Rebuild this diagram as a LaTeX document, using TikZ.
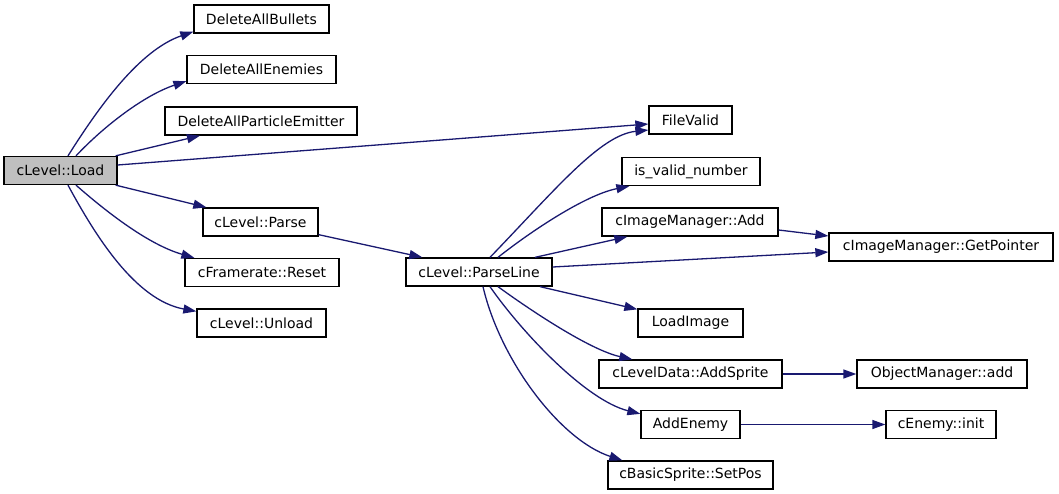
\documentclass[tikz,border=0pt]{standalone}
\usepackage{fontspec}
\setmainfont{DejaVu Sans}
\usetikzlibrary{arrows.meta}
\definecolor{edgec}{HTML}{191970}
\definecolor{grayfill}{HTML}{BFBFBF}
\tikzset{
  fn/.style={draw=black, line width=1.3pt, fill=white, inner sep=0pt, minimum height=28pt,
    font=\fontsize{14}{16}\selectfont, text=black},
  cur/.style={fn, fill=grayfill},
  call/.style={draw=edgec, line width=1.3pt, -{Triangle[length=13pt,width=9pt]}},
}
\begin{document}
\begin{tikzpicture}[x=1pt,y=-1pt]
\useasboundingbox (0,0) rectangle (1059,493);
% nodes
\node[cur, minimum width=113pt] (load) at (60.5,170.5) {cLevel::Load};
\node[fn, minimum width=135pt] (bullets) at (261.5,19) {DeleteAllBullets};
\node[fn, minimum width=149pt] (enemies) at (261.5,69.5) {DeleteAllEnemies};
\node[fn, minimum width=192pt] (particle) at (261,121) {DeleteAllParticleEmitter};
\node[fn, minimum width=115pt] (parse) at (260.5,222) {cLevel::Parse};
\node[fn, minimum width=154pt] (reset) at (262,272.5) {cFramerate::Reset};
\node[fn, minimum width=129pt] (unload) at (261.5,323) {cLevel::Unload};
\node[fn, minimum width=146pt] (parseline) at (479,272) {cLevel::ParseLine};
\node[fn, minimum width=83pt] (filevalid) at (690.5,120) {FileValid};
\node[fn, minimum width=138pt] (isvalid) at (691,171.5) {is\_valid\_number};
\node[fn, minimum width=176pt] (imgadd) at (690,222) {cImageManager::Add};
\node[fn, minimum width=224pt] (getptr) at (941,247) {cImageManager::GetPointer};
\node[fn, minimum width=105pt] (loadimage) at (690.5,323) {LoadImage};
\node[fn, minimum width=183pt] (addsprite) at (690.5,374) {cLevelData::AddSprite};
\node[fn, minimum width=170pt] (objadd) at (942,374) {ObjectManager::add};
\node[fn, minimum width=99pt] (addenemy) at (690.5,424.5) {AddEnemy};
\node[fn, minimum width=110pt] (enemyinit) at (941,424.5) {cEnemy::init};
\node[fn, minimum width=165pt] (setpos) at (690.5,475) {cBasicSprite::SetPos};
% edges from cLevel::Load
\draw[call] ([xshift=7.5pt]load.north) .. controls (100,105) and (140,50) .. ([yshift=2pt]bullets.south west);
\draw[call] ([xshift=15.5pt]load.north) .. controls (105,125) and (145,95) .. ([yshift=3pt]enemies.south west);
\draw[call] ([xshift=-2pt]load.north east) -- ([xshift=-61pt]particle.south);
\draw[call] ([yshift=5.5pt]load.east) -- ([yshift=-4pt]filevalid.west);
\draw[call] ([xshift=-2pt]load.south east) -- ([xshift=4pt]parse.north west);
\draw[call] ([xshift=15.5pt]load.south) .. controls (110,215) and (150,245) .. ([xshift=10pt]reset.north west);
\draw[call] ([xshift=7.5pt]load.south) .. controls (95,235) and (135,300) .. ([yshift=-3pt]unload.north west);
\draw[call] ([yshift=2pt]parse.south east) -- ([xshift=17pt]parseline.north west);
% edges from cLevel::ParseLine
\draw[call] ([xshift=11pt]parseline.north) .. controls (555,190) and (600,135) .. ([yshift=-10pt]filevalid.west);
\draw[call] ([xshift=19pt]parseline.north) .. controls (530,232) and (585,195) .. ([xshift=8pt]isvalid.south west);
\draw[call] ([xshift=56pt]parseline.north) -- ([xshift=26pt]imgadd.south west);
\draw[call] ([yshift=-8pt]imgadd.east) -- ([yshift=11pt]getptr.west);
\draw[call] ([yshift=5pt]parseline.east) -- ([yshift=-5pt]getptr.west);
\draw[call] ([xshift=61pt]parseline.south) -- ([yshift=-1pt]loadimage.north west);
\draw[call] ([xshift=19pt]parseline.south) .. controls (530,310) and (590,350) .. ([xshift=34pt]addsprite.north west);
\draw[call] ([xshift=11pt]parseline.south) .. controls (520,330) and (585,400) .. ([yshift=-4pt]addenemy.north west);
\draw[call] ([xshift=4pt]parseline.south) .. controls (500,360) and (560,440) .. ([xshift=15pt]setpos.north west);
\draw[call] (addsprite.east) -- (objadd.west);
\draw[call] (addenemy.east) -- (enemyinit.west);
\end{tikzpicture}
\end{document}
